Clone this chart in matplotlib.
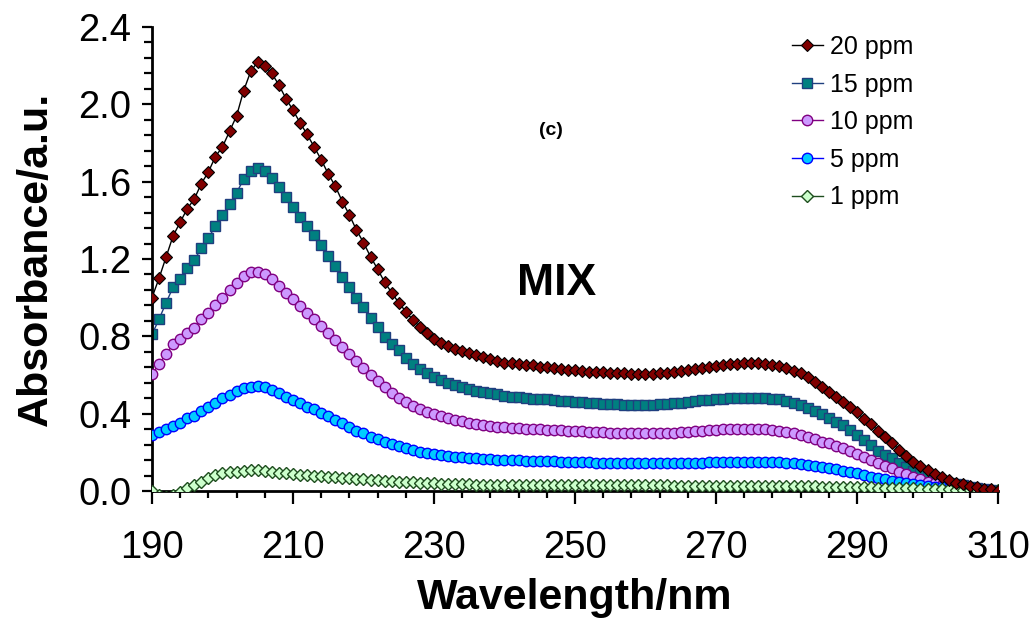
import matplotlib
matplotlib.use("Agg")
import matplotlib.pyplot as plt
from matplotlib.ticker import FixedLocator, FormatStrFormatter
import numpy as np

plt.rcParams['font.family'] = ['Liberation Sans', 'DejaVu Sans']

wavelength = list(range(190, 311))

ppm20 = [1.00, 1.10, 1.21, 1.32, 1.39, 1.46, 1.51, 1.59, 1.65, 1.73,
         1.78, 1.86, 1.94, 2.07, 2.17, 2.22, 2.20, 2.16, 2.10, 2.03,
         1.97, 1.905, 1.845, 1.78, 1.714, 1.64, 1.577, 1.497, 1.428, 1.350,
         1.285, 1.212, 1.148, 1.080, 1.026, 0.974, 0.928, 0.885, 0.850, 0.819,
         0.785, 0.765, 0.750, 0.737, 0.725, 0.712, 0.702, 0.692, 0.685, 0.670,
         0.664, 0.660, 0.657, 0.650, 0.650, 0.643, 0.640, 0.635, 0.631, 0.628,
         0.626, 0.621, 0.617, 0.614, 0.614, 0.612, 0.609, 0.609, 0.605, 0.605,
         0.605, 0.605, 0.609, 0.609, 0.613, 0.620, 0.626, 0.631, 0.635, 0.640,
         0.647, 0.652, 0.655, 0.657, 0.660, 0.660, 0.660, 0.657, 0.652, 0.647,
         0.635, 0.622, 0.609, 0.588, 0.566, 0.536, 0.510, 0.488, 0.462, 0.436,
         0.407, 0.372, 0.345, 0.312, 0.281, 0.247, 0.212, 0.181, 0.152, 0.129,
         0.109, 0.088, 0.071, 0.057, 0.043, 0.034, 0.026, 0.019, 0.012, 0.009,
         0.002]

ppm15 = [0.810, 0.888, 0.974, 1.054, 1.097, 1.152, 1.195, 1.255, 1.307, 1.372,
         1.426, 1.485, 1.543, 1.612, 1.655, 1.673, 1.657, 1.618, 1.571, 1.519,
         1.470, 1.419, 1.371, 1.324, 1.273, 1.218, 1.164, 1.109, 1.057, 1.000,
         0.950, 0.893, 0.847, 0.798, 0.762, 0.727, 0.686, 0.657, 0.629, 0.609,
         0.591, 0.574, 0.560, 0.548, 0.536, 0.526, 0.519, 0.514, 0.509, 0.501,
         0.493, 0.488, 0.485, 0.479, 0.478, 0.476, 0.474, 0.471, 0.467, 0.466,
         0.462, 0.459, 0.457, 0.454, 0.450, 0.450, 0.448, 0.447, 0.445, 0.445,
         0.445, 0.447, 0.450, 0.452, 0.455, 0.457, 0.462, 0.466, 0.469, 0.471,
         0.474, 0.478, 0.479, 0.483, 0.483, 0.483, 0.483, 0.479, 0.478, 0.474,
         0.467, 0.457, 0.445, 0.428, 0.416, 0.398, 0.376, 0.359, 0.343, 0.316,
         0.290, 0.264, 0.238, 0.209, 0.186, 0.169, 0.143, 0.122, 0.105, 0.091,
         0.078, 0.066, 0.053, 0.043, 0.036, 0.029, 0.022, 0.014, 0.009, 0.005,
         0.002]

ppm10 = [0.605, 0.657, 0.709, 0.760, 0.785, 0.819, 0.842, 0.888, 0.919, 0.962,
         1.000, 1.040, 1.074, 1.112, 1.131, 1.135, 1.123, 1.095, 1.061, 1.023,
         0.992, 0.957, 0.923, 0.888, 0.856, 0.819, 0.783, 0.747, 0.709, 0.674,
         0.635, 0.600, 0.571, 0.540, 0.509, 0.483, 0.459, 0.440, 0.422, 0.410,
         0.398, 0.388, 0.376, 0.367, 0.362, 0.354, 0.347, 0.341, 0.336, 0.333,
         0.329, 0.328, 0.324, 0.322, 0.321, 0.319, 0.317, 0.316, 0.314, 0.312,
         0.310, 0.309, 0.307, 0.305, 0.303, 0.302, 0.300, 0.300, 0.298, 0.298,
         0.298, 0.300, 0.300, 0.301, 0.302, 0.305, 0.307, 0.310, 0.312, 0.316,
         0.316, 0.319, 0.319, 0.321, 0.321, 0.321, 0.319, 0.319, 0.316, 0.312,
         0.307, 0.298, 0.290, 0.281, 0.267, 0.255, 0.247, 0.233, 0.221, 0.206,
         0.191, 0.178, 0.160, 0.143, 0.129, 0.117, 0.100, 0.088, 0.074, 0.060,
         0.048, 0.040, 0.031, 0.022, 0.017, 0.012, 0.009, 0.005, 0.004, 0.002,
         0.002]

ppm5 = [0.290, 0.307, 0.319, 0.336, 0.354, 0.376, 0.388, 0.416, 0.433, 0.457,
        0.479, 0.497, 0.517, 0.531, 0.540, 0.543, 0.536, 0.522, 0.509, 0.488,
        0.471, 0.454, 0.436, 0.422, 0.405, 0.386, 0.367, 0.350, 0.329, 0.312,
        0.298, 0.281, 0.267, 0.255, 0.243, 0.233, 0.221, 0.212, 0.203, 0.198,
        0.191, 0.186, 0.181, 0.178, 0.174, 0.172, 0.169, 0.166, 0.164, 0.162,
        0.160, 0.159, 0.158, 0.157, 0.156, 0.155, 0.154, 0.153, 0.152, 0.151,
        0.150, 0.149, 0.148, 0.147, 0.146, 0.146, 0.145, 0.145, 0.144, 0.144,
        0.144, 0.144, 0.144, 0.144, 0.144, 0.145, 0.145, 0.147, 0.147, 0.148,
        0.148, 0.150, 0.150, 0.152, 0.152, 0.152, 0.152, 0.152, 0.150, 0.148,
        0.147, 0.143, 0.140, 0.135, 0.129, 0.122, 0.117, 0.112, 0.105, 0.100,
        0.091, 0.083, 0.074, 0.066, 0.060, 0.053, 0.048, 0.040, 0.034, 0.031,
        0.026, 0.022, 0.019, 0.014, 0.010, 0.009, 0.005, 0.005, 0.004, 0.002,
        0.002]

ppm1 = [0.000, -0.020, -0.030, -0.020, -0.005, 0.015, 0.031, 0.048, 0.066, 0.083,
        0.095, 0.100, 0.100, 0.105, 0.109, 0.109, 0.105, 0.100, 0.095, 0.091,
        0.088, 0.083, 0.083, 0.078, 0.076, 0.074, 0.071, 0.069, 0.066, 0.063,
        0.060, 0.057, 0.055, 0.052, 0.050, 0.048, 0.046, 0.044, 0.043, 0.041,
        0.040, 0.038, 0.037, 0.036, 0.035, 0.034, 0.033, 0.032, 0.031, 0.031,
        0.030, 0.030, 0.030, 0.030, 0.030, 0.030, 0.030, 0.030, 0.030, 0.030,
        0.030, 0.030, 0.030, 0.030, 0.030, 0.029, 0.029, 0.029, 0.029, 0.029,
        0.029, 0.029, 0.029, 0.029, 0.028, 0.028, 0.028, 0.028, 0.028, 0.028,
        0.028, 0.028, 0.028, 0.027, 0.027, 0.027, 0.027, 0.027, 0.026, 0.026,
        0.026, 0.025, 0.025, 0.024, 0.024, 0.023, 0.023, 0.022, 0.022, 0.021,
        0.020, 0.020, 0.019, 0.018, 0.017, 0.016, 0.015, 0.014, 0.013, 0.012,
        0.011, 0.010, 0.009, 0.008, 0.007, 0.006, 0.006, 0.005, 0.005, 0.004,
        0.003]

labels = ["20 ppm", "15 ppm", "10 ppm", "5 ppm", "1 ppm"]
xticks = [190, 210, 230, 250, 270, 290, 310]
yticks = [0.0, 0.4, 0.8, 1.2, 1.6, 2.0, 2.4]

fig = plt.figure(figsize=(10.31, 6.22), dpi=100)
ax = fig.add_axes([0.1474, 0.2106, 0.968 - 0.1474, 0.9566 - 0.2106])

styles = [
    dict(marker='D', ms=6.0, mfc='#800000', mec='#000000', color='#000000', lw=1.0, mew=0.8, zorder=6),
    dict(marker='s', ms=7.0, mfc='#008080', mec='#1F3F7F', color='#1F3F7F', lw=1.0, mew=1.0, zorder=2),
    dict(marker='o', ms=7.5, mfc='#CC99FF', mec='#800080', color='#800080', lw=1.0, mew=1.0, zorder=3),
    dict(marker='o', ms=7.5, mfc='#00CCFF', mec='#0000FF', color='#0000FF', lw=1.0, mew=1.0, zorder=4),
    dict(marker='D', ms=6.0, mfc='#CCFFCC', mec='#1E4D1E', color='#1E4D1E', lw=1.0, mew=1.0, zorder=5),
]
series = [ppm20, ppm15, ppm10, ppm5, ppm1]
handles = []
for y, lab, st in zip(series, labels, styles):
    h, = ax.plot(wavelength, y, label=lab, **st)
    handles.append(h)

ax.set_xlim(190, 310)
ax.set_ylim(0, 2.4)
ax.xaxis.set_major_locator(FixedLocator(xticks))
ax.xaxis.set_minor_locator(FixedLocator(list(range(190, 311, 4))))
ax.yaxis.set_major_locator(FixedLocator(yticks))
ax.yaxis.set_minor_locator(FixedLocator([i * 0.08 for i in range(31)]))
ax.yaxis.set_major_formatter(FormatStrFormatter('%.1f'))

for s in ['top', 'right']:
    ax.spines[s].set_visible(False)
for s in ['left', 'bottom']:
    ax.spines[s].set_linewidth(2.0)
    ax.spines[s].set_color('black')

ax.tick_params(axis='x', which='major', direction='out', length=9, width=1.6, labelsize=27.5, pad=19)
ax.tick_params(axis='x', which='minor', direction='out', length=5, width=1.6)
ax.tick_params(axis='y', which='major', direction='out', length=7, width=1.6, labelsize=27.5, pad=8)
ax.tick_params(axis='y', which='minor', direction='out', length=6, width=1.6)

ax.set_xlabel("Wavelength/nm", fontsize=31, fontweight='bold', labelpad=9)
ax.set_ylabel("Absorbance/a.u.", fontsize=31, fontweight='bold', labelpad=16)

ax.text(0.472, 0.776, "(c)", transform=ax.transAxes, fontsize=14, fontweight='bold', ha='center', va='center')
ax.text(0.478, 0.448, "MIX", transform=ax.transAxes, fontsize=32, fontweight='bold', ha='center', va='center')

leg = ax.legend(handles=handles, loc='upper left', bbox_to_anchor=(0.756, 0.983), frameon=False,
                fontsize=18, handlelength=1.25, handletextpad=0.3, labelspacing=0.545,
                borderaxespad=0.0, borderpad=0.0)

fig.savefig("out.png", dpi=100)
